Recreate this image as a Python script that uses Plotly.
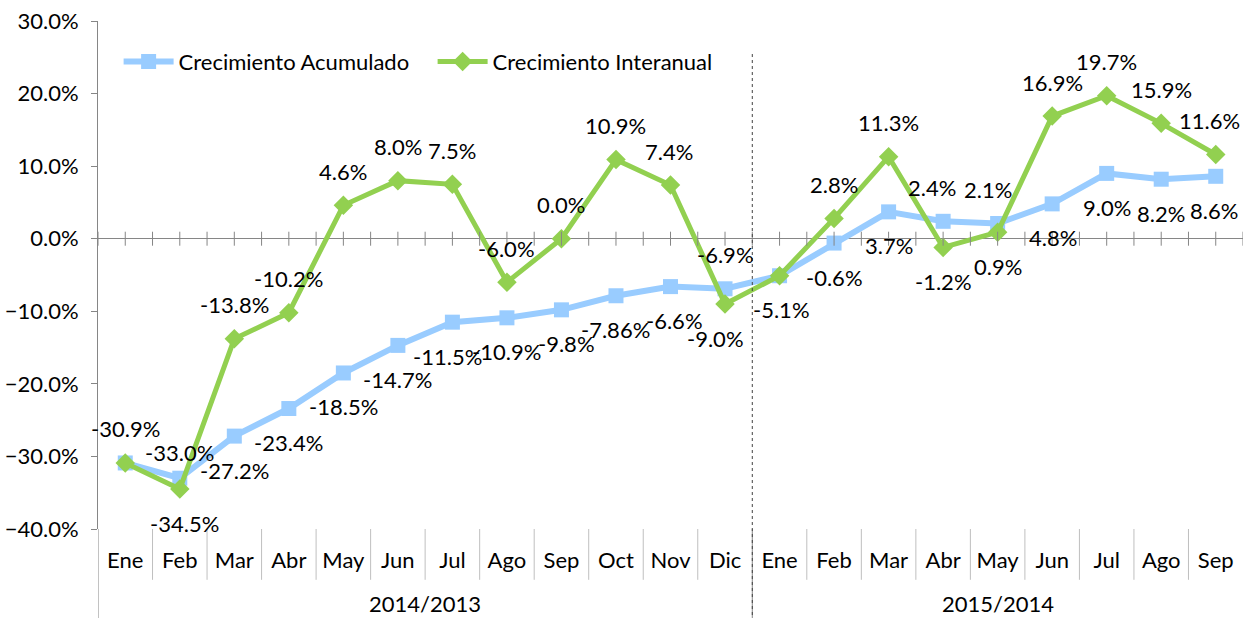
import plotly.graph_objects as go

months = ["Ene", "Feb", "Mar", "Abr", "May", "Jun", "Jul", "Ago", "Sep", "Oct", "Nov", "Dic",
          "Ene", "Feb", "Mar", "Abr", "May", "Jun", "Jul", "Ago", "Sep"]
year_groups = ["2014/2013", "2015/2014"]
group_sizes = [12, 9]

acumulado = [-30.9, -33.0, -27.2, -23.4, -18.5, -14.7, -11.5, -10.9, -9.8, -7.86, -6.6, -6.9,
             -5.1, -0.6, 3.7, 2.4, 2.1, 4.8, 9.0, 8.2, 8.6]
interanual = [-30.9, -34.5, -13.8, -10.2, 4.6, 8.0, 7.5, -6.0, 0.0, 10.9, 7.4, -9.0,
              -5.1, 2.8, 11.3, -1.2, 0.9, 16.9, 19.7, 15.9, 11.6]

# label placement (style): 1 = above, -1 = below
acu_pos = [1, 1, -1, -1, -1, -1, -1, -1, -1, -1, -1, 1, -1, -1, -1, 1, 1, -1, -1, -1, -1]
int_pos = [1, -1, 1, 1, 1, 1, 1, 1, 1, 1, 1, -1, -1, 1, 1, -1, -1, 1, 1, 1, 1]
acu_dx = [0, 0, 0, 0, 0, 0, -5, 0, 5, 0, 4, 0, 2, 0, 0, -11, -10, 1, 0, 0, -2]
int_dx = [0, 5, 0, 0, 0, 0, 0, 0, 0, 0, -2, -10, 0, 0, 0, 0, 0, 0, 0, 0, -6]

BLUE = "#99CCFF"
GREEN = "#92D050"
AXIS = "#868686"
FONT = "Lato"
FS = 22

x = list(range(len(months)))


def fmt(v):
    return f"{v:.1f}%" if round(v, 1) == v else f"{v:.2f}%"


fig = go.Figure()
fig.add_trace(go.Scatter(x=x, y=acumulado, mode="lines+markers", name="Crecimiento Acumulado",
                         line=dict(color=BLUE, width=6),
                         marker=dict(symbol="square", size=15, color=BLUE)))
fig.add_trace(go.Scatter(x=x, y=interanual, mode="lines+markers", name="Crecimiento Interanual",
                         line=dict(color=GREEN, width=5),
                         marker=dict(symbol="diamond", size=15, color=GREEN)))

annotations = []
for i, v in enumerate(acumulado):
    annotations.append(dict(x=i, y=v, xref="x", yref="y", text=fmt(v), showarrow=False,
                            yshift=34 * acu_pos[i] - (8 if acu_pos[i] > 0 and i == 1 else 0),
                            xshift=acu_dx[i], font=dict(family=FONT, size=FS, color="black")))
for i, v in enumerate(interanual):
    if v == acumulado[i]:
        continue
    annotations.append(dict(x=i, y=v, xref="x", yref="y", text=fmt(v), showarrow=False,
                            yshift=34 * int_pos[i], xshift=int_dx[i],
                            font=dict(family=FONT, size=FS, color="black")))

# year group labels
start = 0
for name, n in zip(year_groups, group_sizes):
    annotations.append(dict(x=start + (n - 1) / 2, y=-0.146, xref="x", yref="paper", text=name,
                            xanchor="center", yanchor="middle",
                            showarrow=False, font=dict(family=FONT, size=FS, color="black")))
    start += n

shapes = []
# ticks on the zero axis (centers and boundaries)
for k in range(2 * len(months) + 1):
    xv = -0.5 + 0.5 * k
    shapes.append(dict(type="line", xref="x", yref="y", ysizemode="pixel", yanchor=0,
                       x0=xv, x1=xv, y0=-7, y1=7, line=dict(color=AXIS, width=1)))
# category separators below plot
bounds = set()
s = 0
for n in group_sizes:
    bounds.add(s - 0.5)
    s += n
for k in range(len(months)):
    xv = k - 0.5
    y1 = -0.18 if xv in bounds else -0.1
    shapes.append(dict(type="line", xref="x", yref="paper", x0=xv, x1=xv, y0=0, y1=y1,
                       line=dict(color="#BFBFBF" if y1 == -0.1 else AXIS, width=1)))
# dotted divider between years
shapes.append(dict(type="line", xref="x", yref="paper", x0=group_sizes[0] - 0.5, x1=group_sizes[0] - 0.5,
                   y0=0.935, y1=-0.18, line=dict(color="#404040", width=1, dash="dot")))

fig.update_layout(
    width=1243, height=618,
    margin=dict(l=98, r=0, t=21, b=89, pad=0, autoexpand=False),
    paper_bgcolor="white", plot_bgcolor="white",
    font=dict(family=FONT, size=FS, color="black"),
    showlegend=True,
    legend=dict(orientation="h", x=0.018, y=0.92, xanchor="left", yanchor="middle",
                bgcolor="rgba(0,0,0,0)", font=dict(family=FONT, size=FS, color="black"),
                itemwidth=50, entrywidth=249, entrywidthmode="pixels"),
    xaxis=dict(range=[-0.5, len(months) - 0.5], tickmode="array", tickvals=x, ticktext=months,
               showgrid=False, zeroline=False, showline=False, ticks="", automargin=False,
               ticklabelstandoff=16, tickfont=dict(family=FONT, size=FS, color="black")),
    yaxis=dict(range=[-40, 30], dtick=10, tick0=0, tickformat=".1f", ticksuffix="%",
               showgrid=False, zeroline=True, zerolinecolor=AXIS, zerolinewidth=1,
               showline=True, linecolor=AXIS, linewidth=1, ticks="outside", ticklen=6,
               tickcolor=AXIS, ticklabelstandoff=8, automargin=False,
               tickfont=dict(family=FONT, size=FS, color="black")),
    annotations=annotations,
    shapes=shapes,
)

fig.write_html("out.html", config={"displayModeBar": False},
               post_script="document.body.style.margin='0';document.body.style.overflow='hidden';")
